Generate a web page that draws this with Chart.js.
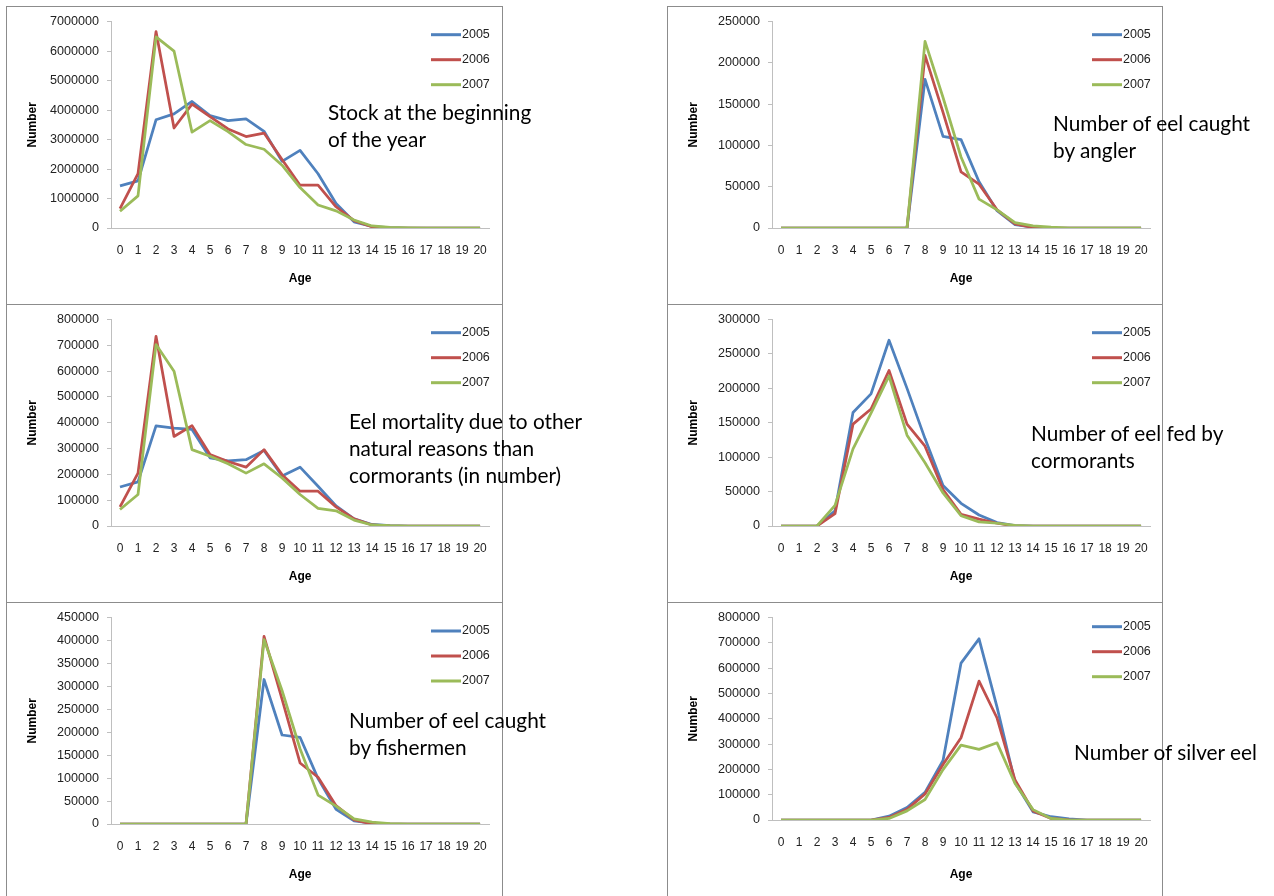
<!DOCTYPE html>
<html lang="en">
<head>
<meta charset="UTF-8">
<title>Eel numbers by age</title>
<script src="https://cdn.jsdelivr.net/npm/chart.js"></script>
<style>
  body { margin: 0; background: #fff; width: 1274px; height: 896px; overflow: hidden; position: relative; }
  canvas { position: absolute; }
  .frame { position: absolute; border: 1px solid #8c8c8c; box-sizing: border-box; pointer-events: none; }
  .note { position: absolute; font-family: Lato, sans-serif; font-size: 20.8px; line-height: 27px; color: #000; white-space: nowrap; }
</style>
</head>
<body>
<div id="root"></div>

<script>
    // ages on the x axis, one series per year
    const ages = ['0','1','2','3','4','5','6','7','8','9','10','11','12','13','14','15','16','17','18','19','20'];
    const years = ['2005', '2006', '2007'];
    const colors = ['#4F81BD', '#C0504D', '#9BBB59'];

    // Stock at the beginning of the year
    const stock2005 = [1430000,1600000,3670000,3870000,4290000,3810000,3640000,3700000,3280000,2260000,2630000,1840000,830000,210000,50000,10000,0,0,0,0,0];
    const stock2006 = [660000,1840000,6660000,3390000,4200000,3780000,3360000,3100000,3220000,2320000,1450000,1450000,720000,250000,40000,5000,0,0,0,0,0];
    const stock2007 = [570000,1090000,6480000,6000000,3250000,3640000,3270000,2830000,2670000,2130000,1370000,780000,580000,270000,70000,20000,5000,0,0,0,0];

    // Number of eel caught by angler
    const angler2005 = [0,0,0,0,0,0,0,0,180000,111000,107000,56000,21000,4000,1000,0,0,0,0,0,0];
    const angler2006 = [0,0,0,0,0,0,0,0,209000,140000,68000,53000,22000,5000,500,0,0,0,0,0,0];
    const angler2007 = [0,0,0,0,0,0,0,0,226000,158000,86000,35000,22000,6500,2500,1000,0,0,0,0,0];

    // Eel mortality due to other natural reasons than cormorants
    const other2005 = [151000,171000,388000,379000,374000,264000,252000,257000,293000,194000,228000,154000,78000,28000,6000,1000,0,0,0,0,0];
    const other2006 = [74000,205000,735000,347000,389000,277000,250000,228000,296000,199000,135000,135000,74000,28000,4000,0,0,0,0,0,0];
    const other2007 = [64000,122000,703000,600000,296000,270000,241000,205000,241000,186000,122000,68000,59000,23000,4000,1000,0,0,0,0,0];

    // Number of eel fed by cormorants
    const corm2005 = [0,0,0,22000,165000,192000,270000,200000,127000,59000,33000,16000,5000,500,0,0,0,0,0,0,0];
    const corm2006 = [0,0,0,18000,148000,170000,226000,148000,116000,53000,17000,10000,4000,0,0,0,0,0,0,0,0];
    const corm2007 = [0,0,0,30000,112000,164000,218000,132000,92000,48000,15000,6000,4000,1000,0,0,0,0,0,0,0];

    // Number of eel caught by fishermen
    const fish2005 = [0,0,0,0,0,0,0,0,315000,194000,189000,99000,32000,7000,1500,0,0,0,0,0,0];
    const fish2006 = [0,0,0,0,0,0,0,0,409000,272000,133000,102000,40000,9000,0,0,0,0,0,0,0];
    const fish2007 = [0,0,0,0,0,0,0,0,402000,291000,164000,63000,39000,11000,4000,1000,0,0,0,0,0];

    // Number of silver eel
    const silver2005 = [0,0,0,0,0,0,15000,49000,109000,235000,620000,716000,446000,148000,32000,13000,4000,0,0,0,0];
    const silver2006 = [0,0,0,0,0,0,10000,42000,103000,219000,325000,549000,403000,158000,36000,6000,500,0,0,0,0];
    const silver2007 = [0,0,0,0,0,0,6000,36000,81000,199000,296000,279000,305000,144000,41000,6000,0,0,0,0,0];

    // y axis ranges (max, step) per chart
    const yMax = [7000000, 250000, 800000, 300000, 450000, 800000];
    const yStep = [1000000, 50000, 100000, 50000, 50000, 100000];

    const notes = [
        ['Stock at the beginning', 'of the year'],
        ['Number of eel caught', 'by angler'],
        ['Eel mortality due to other', 'natural reasons than', 'cormorants (in number)'],
        ['Number of eel fed by', 'cormorants'],
        ['Number of eel caught', 'by fishermen'],
        ['Number of silver eel']
    ];

    const W = 496, H = 298;
    const panels = [
        { x: 6,   y: 6,   series: [stock2005, stock2006, stock2007],    top: 14.7, bottom: 222, legendY: 28.7, noteX: 328,  noteY: 98 },
        { x: 667, y: 6,   series: [angler2005, angler2006, angler2007], top: 14.7, bottom: 222, legendY: 28.7, noteX: 1053, noteY: 109 },
        { x: 6,   y: 304, series: [other2005, other2006, other2007],    top: 14.3, bottom: 222, legendY: 28.7, noteX: 349,  noteY: 407 },
        { x: 667, y: 304, series: [corm2005, corm2006, corm2007],       top: 14.3, bottom: 222, legendY: 28.7, noteX: 1031, noteY: 419 },
        { x: 6,   y: 602, series: [fish2005, fish2006, fish2007],       top: 14,   bottom: 222, legendY: 29,   noteX: 349,  noteY: 706 },
        { x: 667, y: 602, series: [silver2005, silver2006, silver2007], top: 10.7, bottom: 218, legendY: 24.7, noteX: 1074, noteY: 738 }
    ];

    const xFont = { family: 'Liberation Sans', size: 12 };
    const yFont = { family: 'Liberation Sans', size: 12.6 };
    const titleFont = { family: 'Liberation Sans', size: 12, weight: 'bold' };

    // legend drawn inside the plot, top right, like the spreadsheet
    const eelLegend = {
        id: 'eelLegend',
        afterDatasetsDraw(chart, args, opts) {
            const ctx = chart.ctx;
            ctx.save();
            ctx.font = '12.5px "Liberation Sans"';
            ctx.textBaseline = 'middle';
            chart.data.datasets.forEach((ds, i) => {
                const y = opts.y0 + i * 25;
                ctx.strokeStyle = ds.borderColor;
                ctx.lineWidth = 3;
                ctx.beginPath();
                ctx.moveTo(425, y);
                ctx.lineTo(455, y);
                ctx.stroke();
                ctx.fillStyle = '#222';
                ctx.fillText(ds.label, 456, y);
            });
            ctx.restore();
        }
    };

    const root = document.getElementById('root');

    panels.forEach((p, k) => {
        const canvas = document.createElement('canvas');
        canvas.width = W;
        canvas.height = H;
        canvas.style.left = p.x + 'px';
        canvas.style.top = p.y + 'px';
        root.appendChild(canvas);

        const frame = document.createElement('div');
        frame.className = 'frame';
        frame.style.left = p.x + 'px';
        frame.style.top = p.y + 'px';
        frame.style.width = (p.x < 300 ? 497 : 496) + 'px';
        frame.style.height = '299px';
        root.appendChild(frame);

        const note = document.createElement('div');
        note.className = 'note';
        note.style.left = p.noteX + 'px';
        note.style.top = p.noteY + 'px';
        note.innerHTML = notes[k].join('<br>');
        root.appendChild(note);

        new Chart(canvas, {
            type: 'line',
            data: {
                labels: ages,
                datasets: p.series.map((s, i) => ({
                    label: years[i],
                    data: s,
                    borderColor: colors[i],
                    backgroundColor: colors[i],
                    borderWidth: 2.75,
                    borderJoinStyle: 'round',
                    pointRadius: 0,
                    tension: 0,
                    fill: false,
                    order: 2 - i
                }))
            },
            options: {
                responsive: false,
                animation: false,
                devicePixelRatio: 1,
                layout: { padding: { left: 0, right: p.x < 300 ? 10 : 11, top: p.top, bottom: 0 } },
                plugins: {
                    legend: { display: false },
                    tooltip: { enabled: false },
                    eelLegend: { y0: p.legendY }
                },
                scales: {
                    x: {
                        offset: true,
                        grid: { display: false, drawTicks: false },
                        border: { display: true, color: '#bfbfbf', width: 1 },
                        ticks: { color: '#222', font: xFont, padding: 15, maxRotation: 0, autoSkip: false },
                        title: { display: true, text: 'Age', color: '#000', font: titleFont, padding: { top: 0, bottom: 18 } },
                        afterFit: s => { s.height = H - p.bottom; }
                    },
                    y: {
                        min: 0,
                        max: yMax[k],
                        ticks: { stepSize: yStep[k], color: '#222', font: yFont, padding: 8, callback: v => String(v) },
                        grid: { drawOnChartArea: false, drawTicks: true, tickLength: 4, color: '#bfbfbf' },
                        border: { display: true, color: '#bfbfbf', width: 1 },
                        title: { display: true, text: 'Number', color: '#000', font: titleFont, padding: { top: 19, bottom: 0 } },
                        afterFit: s => { s.width = 105; }
                    }
                }
            },
            plugins: [eelLegend]
        });
    });
</script>
</body>
</html>
